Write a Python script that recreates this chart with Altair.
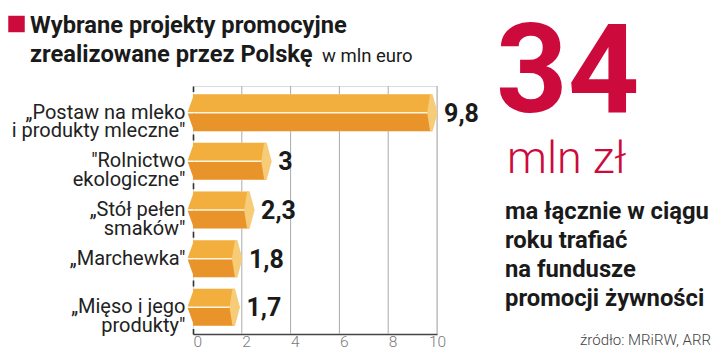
import altair as alt
import pandas as pd

# ---- data ----
categories = [
    "„Postaw na mleko|i produkty mleczne\"",
    "\"Rolnictwo|ekologiczne\"",
    "„Stół pełen|smaków\"",
    "„Marchewka\"",
    "„Mięso i jego|produkty\"",
]
values = [9.8, 3, 2.3, 1.8, 1.7]
value_labels = ["9,8", "3", "2,3", "1,8", "1,7"]
grid_values = [2, 4, 6, 8, 10]
tick_values = [0, 2, 4, 6, 8, 10]

title_lines = ["Wybrane projekty promocyjne", "zrealizowane przez Polskę"]
unit_text = "w mln euro"
big_number = "34"
big_unit = "mln zł"
side_lines = ["ma łącznie w ciągu", "roku trafiać", "na fundusze", "promocji żywności"]
source_text = "źródło: MRiRW, ARR"

# ---- styles ----
RED = "#CC0A3C"
TOP = "#F2AF3E"
BOTTOM = "#E8942B"
CAP = "#F7CC78"
SEP = "#FFF4DE"
FONT = "Roboto"

df = pd.DataFrame({"project": categories, "value": values, "label": value_labels})
grid_df = pd.DataFrame({"g": grid_values})

x_axis = alt.Axis(
    title=None, values=tick_values, grid=False, ticks=False,
    domain=True, domainColor="#444444", domainWidth=1.3,
    labelColor="#7a7a7a", labelFontSize=15.5, labelFontWeight=300, labelFont=FONT,
    labelPadding=0,
    labelAlign={"condition": {"test": "datum.value == 10", "value": "center"}, "value": "left"},
)
x_scale = alt.Scale(domain=[0, 10], nice=False)

y_enc = alt.Y(
    "project:N", sort=categories,
    scale=alt.Scale(paddingInner=0, paddingOuter=0.05),
    axis=alt.Axis(
        title=None, ticks=False, grid=False,
        domain=True, domainColor="#333333", domainWidth=1.6,
        domainDash=[3, 42.6, 3, 0], domainDashOffset=46.1,
        labelExpr="split(datum.label, '|')",
        labelFont=FONT, labelFontSize=20, labelLineHeight=18.5,
        labelColor="#222222", labelAlign="right", labelBaseline="middle",
        labelPadding=8, labelLimit=300,
    ),
)

grid = alt.Chart(grid_df).mark_rule(color="#ABABAB", strokeWidth=1).encode(
    x=alt.X("g:Q", scale=x_scale, axis=x_axis)
)

xv = alt.X("value:Q", scale=x_scale, axis=x_axis)
xzero = alt.X("zero:Q", scale=x_scale, axis=x_axis)

base = alt.Chart(df)
sep = base.mark_bar(color=SEP, height=37).encode(x=xv, y=y_enc)
top = base.mark_bar(color=TOP, height=17.75, yOffset=-9.625).encode(x=xv, y=y_enc)
bottom = base.mark_bar(color=BOTTOM, height=17.75, yOffset=9.625).encode(x=xv, y=y_enc)

chev_top = base.transform_calculate(zero="0").mark_point(
    shape="M1,-18.5 L-5.3,-0.75 L1,-0.75 Z", filled=True, size=4, opacity=1,
    color=TOP, strokeWidth=0,
).encode(x=xzero, y=y_enc)
chev_bot = base.transform_calculate(zero="0").mark_point(
    shape="M1,0.75 L-5.3,0.75 L1,18.5 Z", filled=True, size=4, opacity=1,
    color=BOTTOM, strokeWidth=0,
).encode(x=xzero, y=y_enc)
cap = base.mark_point(
    shape="M-2,-18.5 L0.5,-18.5 L5.5,0 L0.5,18.5 L-2,18.5 L-5,0 Z", filled=True, size=4,
    opacity=1, color=CAP, strokeWidth=0,
).encode(x=xv, y=y_enc)

vals = base.mark_text(
    align="left", baseline="middle", dx=12, dy=1, font=FONT, fontSize=25,
    fontWeight="bold", color="#1a1a1a",
).encode(x=xv, y=y_enc, text="label:N")

one = alt.Data(values=[{"k": 1}])
ann = [
    alt.Chart(one).mark_square(size=272, color=RED, opacity=1).encode(
        x=alt.value(-176.5), y=alt.value(-62)),
    alt.Chart(one).mark_text(
        text=title_lines, align="left", baseline="alphabetic", font=FONT,
        fontSize=23.7, fontWeight="bold", lineHeight=29, color="#1a1a1a",
    ).encode(x=alt.value(-163), y=alt.value(-53.5)),
    alt.Chart(one).mark_text(
        text=unit_text, align="left", baseline="alphabetic", font=FONT,
        fontSize=18.5, color="#1a1a1a",
    ).encode(x=alt.value(129), y=alt.value(-24.5)),
    alt.Chart(one).mark_text(
        text=big_number, align="left", baseline="alphabetic", font=FONT,
        fontSize=125, fontWeight="bold", color=RED,
    ).encode(x=alt.value(303), y=alt.value(25.5)),
    alt.Chart(one).mark_text(
        text=big_unit, align="left", baseline="alphabetic", font=FONT,
        fontSize=45, fontWeight=300, color=RED,
    ).encode(x=alt.value(314), y=alt.value(87)),
    alt.Chart(one).mark_text(
        text=side_lines, align="left", baseline="alphabetic", font=FONT,
        fontSize=23.8, fontWeight="bold", lineHeight=29, color="#1a1a1a",
    ).encode(x=alt.value(312), y=alt.value(133)),
    alt.Chart(one).mark_text(
        text=source_text, align="right", baseline="alphabetic", font=FONT,
        fontSize=15, fontWeight=300, color="#444444",
    ).encode(x=alt.value(518), y=alt.value(259)),
]

chart = alt.layer(grid, sep, top, bottom, chev_top, chev_bot, cap, vals, *ann).properties(
    width=244, height=248,
    autosize=alt.AutoSizeParams(type="none"),
    padding={"left": 185, "top": 78, "right": 275, "bottom": 17},
).configure_view(stroke=None).configure(font=FONT)

chart.save("out.html", embed_options={"renderer": "svg", "actions": False})
